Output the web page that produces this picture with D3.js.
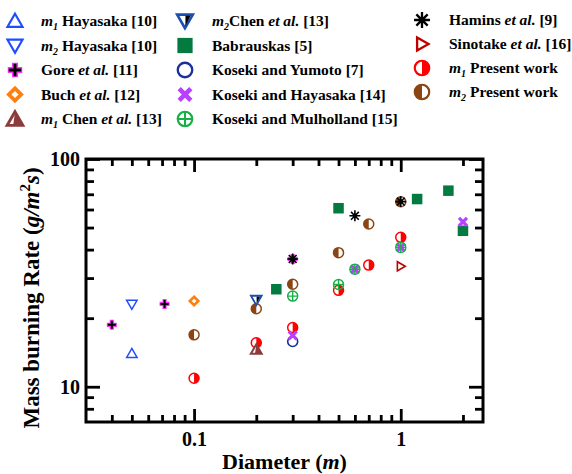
<!DOCTYPE html>
<html>
<head>
<meta charset="utf-8">
<script src="https://cdn.jsdelivr.net/npm/d3@7"></script>
<style>
  body { margin: 0; background: #fff; }
  svg text { font-family: "Liberation Serif", "Times New Roman", serif; font-weight: bold; }
</style>
</head>
<body>
<div data-viz="wrapper"></div>
<script>
// **************************
// Data: [diameter (m), mass burning rate (g/m2s)]
// **************************
const hayasakaM1 = [[0.05, 14.0]]
const hayasakaM2 = [[0.05, 23.0]]
const gore = [[0.04, 18.7], [0.072, 23.1], [0.3, 36.4]]
const buch = [[0.1, 23.8]]
const chenM1 = [[0.2, 14.6]]
const chenM2 = [[0.2, 24.0]]
const babrauskas = [[0.25, 26.8], [0.5, 60.8], [1.2, 66.7], [1.7, 72.6], [2.0, 48.4]]
const kosekiYumoto = [[0.3, 15.8]]
const kosekiHayasaka = [[0.3, 16.8], [0.6, 32.8], [1.0, 40.9], [2.0, 53.0]]
const kosekiMulholland = [[0.3, 25.0], [0.5, 28.1], [0.6, 32.8], [1.0, 40.9]]
const hamins = [[0.3, 36.4], [0.6, 56.3], [1.0, 65.0]]
const sinotake = [[1.0, 33.8]]
const presentM1 = [[0.1, 10.9], [0.2, 15.6], [0.3, 18.2], [0.5, 26.5], [0.7, 34.2], [1.0, 45.3]]
const presentM2 = [[0.1, 16.9], [0.2, 22.0], [0.3, 28.2], [0.5, 38.8], [0.7, 51.8], [1.0, 64.9]]

const xDomain = [0.03, 2.5]
const yDomain = [7, 100]
const xMajorTicks = [0.1, 1]
const xMinorTicks = [0.04, 0.05, 0.06, 0.07, 0.08, 0.09, 0.2, 0.3, 0.4, 0.5, 0.6, 0.7, 0.8, 0.9, 2]
const yMajorTicks = [10, 100]
const yMinorTicks = [8, 9, 20, 30, 40, 50, 60, 70, 80, 90]

// legend labels: [text, style] where style is "i" italic, "sub" subscript
const series = [
  { key: "hayasakaM1", values: hayasakaM1, label: [["m", "i"], ["1", "sub"], [" Hayasaka [10]"]] },
  { key: "hayasakaM2", values: hayasakaM2, label: [["m", "i"], ["2", "sub"], [" Hayasaka [10]"]] },
  { key: "gore", values: gore, label: [["Gore "], ["et al.", "i"], [" [11]"]] },
  { key: "buch", values: buch, label: [["Buch "], ["et al.", "i"], [" [12]"]] },
  { key: "chenM1", values: chenM1, label: [["m", "i"], ["1", "sub"], [" Chen "], ["et al.", "i"], [" [13]"]] },
  { key: "chenM2", values: chenM2, label: [["m", "i"], ["2", "sub"], ["Chen "], ["et al.", "i"], [" [13]"]] },
  { key: "babrauskas", values: babrauskas, label: [["Babrauskas [5]"]] },
  { key: "kosekiYumoto", values: kosekiYumoto, label: [["Koseki and Yumoto [7]"]] },
  { key: "kosekiHayasaka", values: kosekiHayasaka, label: [["Koseki and Hayasaka [14]"]] },
  { key: "kosekiMulholland", values: kosekiMulholland, label: [["Koseki and Mulholland [15]"]] },
  { key: "hamins", values: hamins, label: [["Hamins "], ["et al.", "i"], [" [9]"]] },
  { key: "sinotake", values: sinotake, label: [["Sinotake "], ["et al.", "i"], [" [16]"]] },
  { key: "presentM1", values: presentM1, label: [["m", "i"], ["1", "sub"], [" Present work"]] },
  { key: "presentM2", values: presentM2, label: [["m", "i"], ["2", "sub"], [" Present work"]] }
]

// present work sits underneath the literature markers
const drawOrder = ["presentM1", "presentM2", "hayasakaM1", "hayasakaM2", "gore", "buch", "chenM1",
  "chenM2", "babrauskas", "kosekiYumoto", "kosekiHayasaka", "kosekiMulholland", "hamins", "sinotake"]

const dimensions = {
  width: 572,
  height: 474,
  margin: { top: 159, right: 89, bottom: 52, left: 86 }
}
dimensions.boundedWidth = dimensions.width - dimensions.margin.left - dimensions.margin.right
dimensions.boundedHeight = dimensions.height - dimensions.margin.top - dimensions.margin.bottom

// **************************
// Marker shapes
// **************************
function triPath(R, angleDeg) {
  const pts = d3.range(3).map(i => {
    const a = (angleDeg + i * 120) * Math.PI / 180
    return [R * Math.cos(a), R * Math.sin(a)]
  })
  return "M" + pts.join("L") + "Z"
}

function drawMarker(g, type, s) {
  const r = 5 * s
  if (type === "hayasakaM1" || type === "hayasakaM2") {
    g.append("path")
        .attr("d", triPath(r * 1.2, type === "hayasakaM1" ? -90 : 90))
        .attr("transform", `translate(0,${type === "hayasakaM1" ? r * 0.2 : -r * 0.2})`)
        .attr("fill", "white").attr("stroke", "#1f4cff").attr("stroke-width", 1.5 * s)
  } else if (type === "gore") {
    const d = `M${-r},0H${r}M0,${-r}V${r}`
    g.append("path").attr("d", d).attr("stroke", "#ff33ff").attr("stroke-width", 4.2 * s)
    g.append("path").attr("d", `M${-r + 1},0H${r - 1}M0,${-r + 1}V${r - 1}`)
        .attr("stroke", "black").attr("stroke-width", 2 * s)
  } else if (type === "buch") {
    const h = r * 0.85
    g.append("path").attr("d", `M0,${-h}L${h},0L0,${h}L${-h},0Z`)
        .attr("fill", "white").attr("stroke", "#ff7f0e").attr("stroke-width", 2.6 * s)
  } else if (type === "chenM1") {
    const R = r * 1.25
    g.attr("transform", g.attr("transform") + ` translate(0,${R * 0.2})`)
    g.append("path").attr("d", triPath(R, -90))
        .attr("fill", "white").attr("stroke", "#8c3b3b").attr("stroke-width", 2 * s)
        .attr("stroke-linejoin", "miter")
    g.append("path").attr("d", `M0,${-R}L${R * 0.866},${R / 2}L${-R * 0.2},${R / 2}Z`)
        .attr("fill", "#8c3b3b")
  } else if (type === "chenM2") {
    const R = r * 1.25
    g.attr("transform", g.attr("transform") + ` translate(0,${-R * 0.2})`)
    g.append("path").attr("d", triPath(R, 90))
        .attr("fill", "white").attr("stroke", "#1a4fb0").attr("stroke-width", 1.8 * s)
    g.append("path").attr("d", `M${R * 0.6},${-R / 2 + 1}L${R * 0.05},${-R / 2 + 1}L${R * 0.05},${R - 2}Z`)
        .attr("fill", "black")
  } else if (type === "babrauskas") {
    const a = 10.5 * s
    g.append("rect").attr("x", -a / 2).attr("y", -a / 2).attr("width", a).attr("height", a)
        .attr("fill", "#027a40")
  } else if (type === "kosekiYumoto") {
    g.append("circle").attr("r", r).attr("fill", "none")
        .attr("stroke", "#1a2e9e").attr("stroke-width", 1.6 * s)
  } else if (type === "kosekiHayasaka") {
    const h = r * 0.8
    g.append("path").attr("d", `M${-h},${-h}L${h},${h}M${h},${-h}L${-h},${h}`)
        .attr("stroke", "#b940ff").attr("stroke-width", 3.2 * s)
  } else if (type === "kosekiMulholland") {
    g.append("circle").attr("r", r).attr("fill", "none")
        .attr("stroke", "#19b04a").attr("stroke-width", 1.5 * s)
    g.append("path").attr("d", `M${-r},0H${r}M0,${-r}V${r}`)
        .attr("stroke", "#19b04a").attr("stroke-width", 1.4 * s)
  } else if (type === "hamins") {
    const h = r * 1.1
    const d = d3.range(4).map(i => {
      const a = i * Math.PI / 4
      return `M${-h * Math.cos(a)},${-h * Math.sin(a)}L${h * Math.cos(a)},${h * Math.sin(a)}`
    }).join("")
    g.append("path").attr("d", d).attr("stroke", "black").attr("stroke-width", 1.6 * s)
    g.append("circle").attr("r", r * 0.45).attr("fill", "black")
  } else if (type === "sinotake") {
    g.append("path").attr("d", triPath(r * 1.05, 0))
        .attr("transform", `translate(${-r * 0.15},0)`)
        .attr("fill", "white").attr("stroke", "#c00000").attr("stroke-width", 1.6 * s)
  } else if (type === "presentM1" || type === "presentM2") {
    const color = type === "presentM1" ? "#ff0000" : "#8b4513"
    const sweep = type === "presentM1" ? 1 : 0
    g.append("circle").attr("r", r).attr("fill", "white")
    g.append("path").attr("d", `M0,${-r}A${r},${r} 0 0 ${sweep} 0,${r}Z`).attr("fill", color)
    g.append("circle").attr("r", r).attr("fill", "none")
        .attr("stroke", color).attr("stroke-width", 1.5 * s)
  }
}

// **************************
// Draw the chart
// **************************
const xScale = d3.scaleLog()
  .domain(xDomain)
  .range([0, dimensions.boundedWidth])
const yScale = d3.scaleLog()
  .domain(yDomain)
  .range([dimensions.boundedHeight, 0])

const svg = d3.select("[data-viz='wrapper']").append("svg")
    .attr("width", dimensions.width)
    .attr("height", dimensions.height)

const bounds = svg.append("g")
    .attr("transform", `translate(${dimensions.margin.left},${dimensions.margin.top})`)

function styleAxis(g) {
  g.select(".domain").remove()
  g.selectAll(".tick line").attr("stroke", "black").attr("stroke-width", 2.8)
  g.selectAll(".tick text")
      .attr("fill", "black")
      .style("font-family", "'Liberation Serif', 'Times New Roman', serif")
      .style("font-weight", "bold")
      .style("font-size", "20px")
}

const fmt = d => d3.format("")(d)

bounds.append("g")
    .attr("transform", `translate(0,${dimensions.boundedHeight})`)
    .call(d3.axisBottom(xScale).tickValues(xMajorTicks).tickSize(-13).tickPadding(10).tickFormat(fmt))
    .call(styleAxis)
bounds.append("g")
    .attr("transform", `translate(0,${dimensions.boundedHeight})`)
    .call(d3.axisBottom(xScale).tickValues(xMinorTicks).tickSize(-7).tickFormat(""))
    .call(styleAxis)
bounds.append("g")
    .call(d3.axisTop(xScale).tickValues(xMajorTicks).tickSize(-13).tickFormat(""))
    .call(styleAxis)
bounds.append("g")
    .call(d3.axisTop(xScale).tickValues(xMinorTicks).tickSize(-7).tickFormat(""))
    .call(styleAxis)

bounds.append("g")
    .call(d3.axisLeft(yScale).tickValues(yMajorTicks).tickSize(-14).tickPadding(6).tickFormat(fmt))
    .call(styleAxis)
bounds.append("g")
    .call(d3.axisLeft(yScale).tickValues(yMinorTicks).tickSize(-8).tickFormat(""))
    .call(styleAxis)
bounds.append("g")
    .attr("transform", `translate(${dimensions.boundedWidth},0)`)
    .call(d3.axisRight(yScale).tickValues(yMajorTicks).tickSize(-14).tickFormat(""))
    .call(styleAxis)
bounds.append("g")
    .attr("transform", `translate(${dimensions.boundedWidth},0)`)
    .call(d3.axisRight(yScale).tickValues(yMinorTicks).tickSize(-8).tickFormat(""))
    .call(styleAxis)

// plot frame
bounds.append("rect")
    .attr("width", dimensions.boundedWidth)
    .attr("height", dimensions.boundedHeight)
    .attr("fill", "none")
    .attr("stroke", "black")
    .attr("stroke-width", 3)

// data markers
const points = bounds.append("g")
drawOrder.forEach(key => {
  const s = series.find(d => d.key === key)
  s.values.forEach(([dx, dy]) => {
    const g = points.append("g")
        .attr("transform", `translate(${xScale(dx)},${yScale(dy)})`)
    drawMarker(g, key, 1)
  })
})

// axis titles
svg.append("text")
    .attr("x", dimensions.margin.left + dimensions.boundedWidth / 2)
    .attr("y", 469)
    .attr("text-anchor", "middle")
    .style("font-size", "22px")
    .call(t => {
      t.append("tspan").text("Diameter (")
      t.append("tspan").style("font-style", "italic").text("m")
      t.append("tspan").text(")")
    })

svg.append("text")
    .attr("transform", `translate(39,298) rotate(-90)`)
    .attr("text-anchor", "middle")
    .style("font-size", "23px")
    .call(t => {
      t.append("tspan").text("Mass burning Rate (")
      t.append("tspan").style("font-style", "italic").text("g/m")
      t.append("tspan").attr("dy", -9).style("font-size", "15px").text("2")
      t.append("tspan").attr("dy", 9).style("font-style", "italic").text("s")
      t.append("tspan").text(")")
    })

// **************************
// Legend
// **************************
const legendColumns = [
  { markerX: 15, textX: 41, rows: [21, 45.5, 70, 94.5, 119], keys: series.slice(0, 5) },
  { markerX: 185, textX: 212, rows: [21, 45.5, 70, 94.5, 119], keys: series.slice(5, 10) },
  { markerX: 422, textX: 449, rows: [20, 44, 68, 92], keys: series.slice(10) }
]

const legend = svg.append("g")
legendColumns.forEach(col => {
  col.keys.forEach((s, i) => {
    const cy = col.rows[i]
    const mg = legend.append("g").attr("transform", `translate(${col.markerX},${cy})`)
    drawMarker(mg, s.key, 1.45)
    const text = legend.append("text")
        .attr("x", col.textX)
        .attr("y", cy + 5)
        .style("font-size", "15.5px")
    let shifted = false
    s.label.forEach(([str, style]) => {
      const ts = text.append("tspan").text(str)
      if (style === "i") ts.style("font-style", "italic")
      if (style === "sub") {
        ts.attr("dy", 4).style("font-size", "10px").style("font-style", "italic")
        shifted = true
      } else if (shifted) {
        ts.attr("dy", -4)
        shifted = false
      }
    })
  })
})
</script>
</body>
</html>
